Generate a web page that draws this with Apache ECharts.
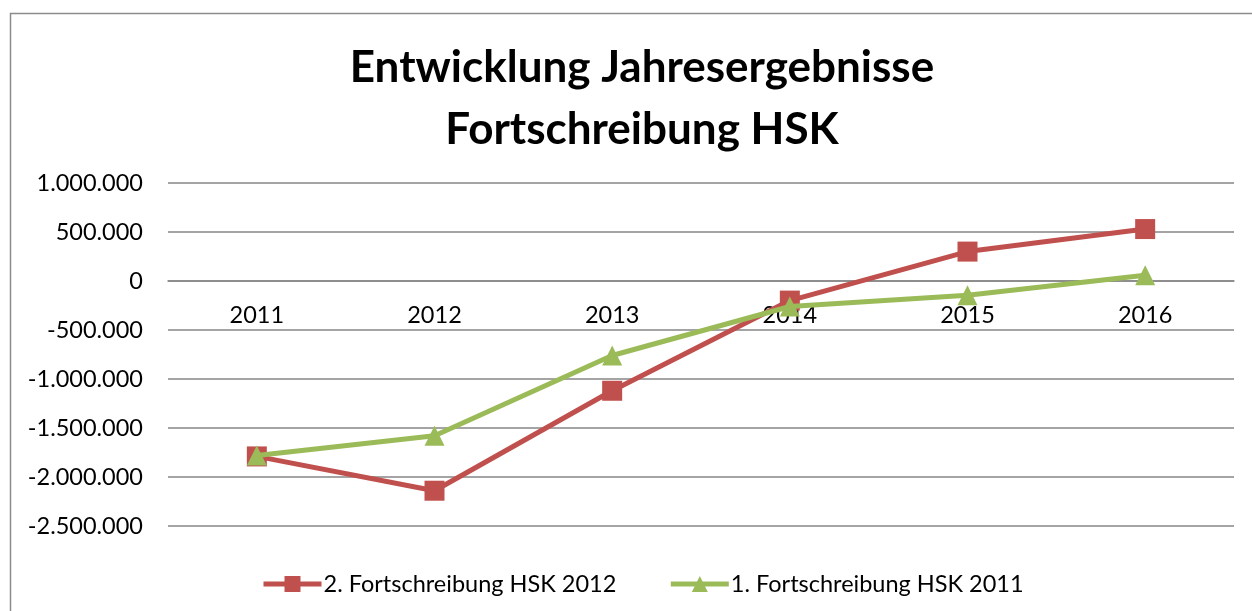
<!DOCTYPE html>
<html>
<head>
<meta charset="utf-8">
<script src="https://cdn.jsdelivr.net/npm/echarts@6/dist/echarts.min.js"></script>
<style>
html,body{margin:0;padding:0;background:#fff;}
#chart{width:1252px;height:611px;}
</style>
</head>
<body>
<div id="chart"></div>
<script>
const titleText = 'Entwicklung Jahresergebnisse\nFortschreibung HSK';
const categories = ['2011', '2012', '2013', '2014', '2015', '2016'];
const seriesNames = ['2. Fortschreibung HSK 2012', '1. Fortschreibung HSK 2011'];
const hsk2012 = [-1790000, -2140000, -1120000, -200000, 300000, 530000];
const hsk2011 = [-1780000, -1580000, -760000, -260000, -146000, 58000];

function fmt(v) {
  const s = Math.abs(v).toString().replace(/\B(?=(\d{3})+(?!\d))/g, '.');
  return (v < 0 ? '-' : '') + s;
}

const chart = echarts.init(document.getElementById('chart'));
const FONT = 'Lato';
chart.setOption({
  animation: false,
  backgroundColor: '#fff',
  graphic: [{
    type: 'rect',
    shape: { x: 10.5, y: 13.5, width: 1260, height: 620 },
    style: { fill: 'none', stroke: '#8c8c8c', lineWidth: 1.5 },
    silent: true
  }],
  title: {
    text: titleText,
    left: 637,
    top: 32,
    textAlign: 'center',
    textStyle: { fontFamily: FONT, fontWeight: 'bold', fontSize: 44, lineHeight: 62, color: '#000' }
  },
  legend: {
    left: 256,
    top: 567,
    itemWidth: 58,
    itemHeight: 20,
    itemGap: 52,
    lineStyle: { width: 5 },
    textStyle: { fontFamily: FONT, fontSize: 23.5, color: '#000', padding: [0, 0, 0, -3] },
    data: seriesNames
  },
  grid: { left: 168, right: 18, top: 183, bottom: 85 },
  xAxis: {
    type: 'category',
    data: categories,
    boundaryGap: true,
    offset: -245,
    axisLine: { onZero: false, lineStyle: { color: '#868686', width: 1.5 } },
    axisTick: { show: false },
    axisLabel: { fontFamily: FONT, fontSize: 23.5, color: '#000', margin: 22 }
  },
  yAxis: {
    type: 'value',
    min: -2500000,
    max: 1000000,
    interval: 500000,
    axisLine: { show: false },
    axisTick: { show: false },
    splitLine: { lineStyle: { color: '#868686', width: 1.5 } },
    axisLabel: { fontFamily: FONT, fontSize: 23.5, color: '#000', margin: 25, formatter: fmt }
  },
  series: [
    {
      name: seriesNames[0],
      type: 'line',
      data: hsk2012,
      symbol: 'rect',
      symbolSize: 20,
      lineStyle: { color: '#C0504D', width: 5 },
      itemStyle: { color: '#C0504D' },
      z: 2
    },
    {
      name: seriesNames[1],
      type: 'line',
      data: hsk2011,
      symbol: 'triangle',
      symbolSize: 20,
      lineStyle: { color: '#9BBB59', width: 5 },
      itemStyle: { color: '#9BBB59' },
      z: 3
    }
  ]
});
</script>
</body>
</html>
